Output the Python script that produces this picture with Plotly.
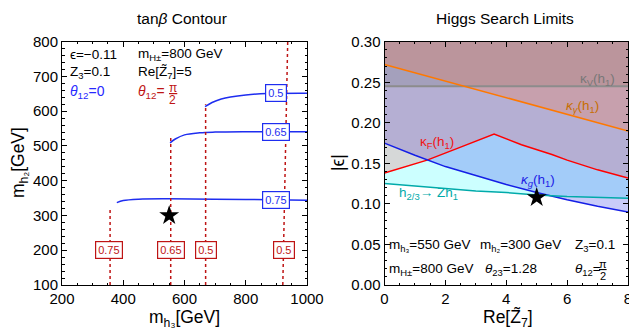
import plotly.graph_objects as go

# ---------------- Left panel data (tanβ contours) ----------------
blue_05_x = [667, 690, 720, 750, 800, 870, 1000]
blue_05_y = [613, 625, 635, 641, 647, 651, 652]
blue_065_x = [553, 570, 600, 650, 700, 800, 1000]
blue_065_y = [509, 520, 532, 538, 540, 541, 541]
blue_075_x = [379, 400, 450, 550, 800, 1000]
blue_075_y = [337, 343, 347, 348, 346, 344]

red_075_x = [357, 357]
red_075_y = [100, 322]
red_065_x = [555, 555]
red_065_y = [100, 523]
red_05a_x = [669, 669]
red_05a_y = [100, 620]
red_05b_x = [921, 937]
red_05b_y = [100, 800]

blue_labels = ["0.5", "0.65", "0.75"]
blue_label_x = [900, 900, 900]
blue_label_y = [651, 541, 346]
red_labels = ["0.75", "0.65", "0.5", "0.5"]
red_label_x = [355, 555, 669, 925]
red_label_y = [200, 200, 200, 200]

star_left = (550, 300)

# ---------------- Right panel data (Higgs search limits) ----------------
orange_x = [0, 3.6, 8]
orange_y = [0.272, 0.235, 0.190]
gray_x = [0, 8]
gray_y = [0.245, 0.245]
red_x = [0, 0.7, 1.4, 2.5, 3.6, 4.5, 5.5, 6, 7, 8]
red_y = [0.138, 0.146, 0.154, 0.170, 0.186, 0.173, 0.161, 0.154, 0.142, 0.132]
blue_x = [0, 1, 2, 3, 4, 5, 6, 7, 8]
blue_y = [0.175, 0.160, 0.146, 0.135, 0.124, 0.114, 0.105, 0.097, 0.090]
teal_x = [0, 1, 2, 3, 4, 5, 6, 7, 8]
teal_y = [0.125, 0.122, 0.119, 0.116, 0.114, 0.111, 0.109, 0.108, 0.107]
star_right = (5, 0.108)

XMAX_R, YMAX_R = 8, 0.30

FONT = "Liberation Sans, Arial, sans-serif"
BLUE = "rgb(30,45,240)"
DRED = "rgb(190,20,20)"

# page body has an 8px margin: size the figure to the remaining window
OFF = 8
W, H = 637 - OFF, 331 - OFF


def fx(px):
    return (px - OFF) / W


def fy(py):
    return 1 - (py - OFF) / H


fig = go.Figure()

# ---- left panel traces
for xs, ys in [(blue_05_x, blue_05_y), (blue_065_x, blue_065_y), (blue_075_x, blue_075_y)]:
    fig.add_trace(go.Scatter(x=xs, y=ys, mode="lines", line=dict(color=BLUE, width=1.5, shape="spline"),
                             xaxis="x", yaxis="y", showlegend=False, hoverinfo="skip"))
for xs, ys in [(red_075_x, red_075_y), (red_065_x, red_065_y), (red_05a_x, red_05a_y), (red_05b_x, red_05b_y)]:
    fig.add_trace(go.Scatter(x=xs, y=ys, mode="lines", line=dict(color=DRED, width=1.5, dash="dot"),
                             xaxis="x", yaxis="y", showlegend=False, hoverinfo="skip"))
fig.add_trace(go.Scatter(x=[star_left[0]], y=[star_left[1]], mode="markers",
                         marker=dict(symbol="star", size=15, color="black"),
                         xaxis="x", yaxis="y", showlegend=False))

# ---- right panel: exclusion fills (region above each curve)
fills = [
    (teal_x, teal_y, "rgba(0,255,255,0.2)"),
    (blue_x, blue_y, "rgba(40,50,230,0.25)"),
    (red_x, red_y, "rgba(255,60,60,0.2)"),
    (gray_x, gray_y, "rgba(100,100,100,0.2)"),
    (orange_x, orange_y, "rgba(255,115,60,0.25)"),
]
for xs, ys, col in fills:
    px = list(xs) + [XMAX_R, 0]
    py = list(ys) + [YMAX_R, YMAX_R]
    fig.add_trace(go.Scatter(x=px, y=py, fill="toself", fillcolor=col, mode="lines",
                             line=dict(width=0), xaxis="x2", yaxis="y2", showlegend=False, hoverinfo="skip"))

lines_r = [
    (gray_x, gray_y, "rgb(140,140,140)", 2),
    (orange_x, orange_y, "rgb(255,120,0)", 1.5),
    (red_x, red_y, "rgb(255,0,0)", 1.5),
    (blue_x, blue_y, "rgb(20,30,230)", 1.5),
    (teal_x, teal_y, "rgb(0,170,170)", 1.5),
]
for xs, ys, col, w in lines_r:
    fig.add_trace(go.Scatter(x=xs, y=ys, mode="lines", line=dict(color=col, width=w),
                             xaxis="x2", yaxis="y2", showlegend=False, hoverinfo="skip"))
fig.add_trace(go.Scatter(x=[star_right[0]], y=[star_right[1]], mode="markers",
                         marker=dict(symbol="star", size=15, color="black"),
                         xaxis="x2", yaxis="y2", showlegend=False))

ann = []
# labels on contours
for t, x, y in zip(blue_labels, blue_label_x, blue_label_y):
    ann.append(dict(x=x, y=y, xref="x", yref="y", text=t, showarrow=False,
                    font=dict(family=FONT, size=11, color=BLUE), bgcolor="white",
                    bordercolor=BLUE, borderwidth=1.2, borderpad=2))
for t, x, y in zip(red_labels, red_label_x, red_label_y):
    ann.append(dict(x=x, y=y, xref="x", yref="y", text=t, showarrow=False,
                    font=dict(family=FONT, size=11, color=DRED), bgcolor="white",
                    bordercolor=DRED, borderwidth=1.2, borderpad=2))


def txt(x, y, text, xref, yref, color="black", size=13.5, xanchor="left"):
    ann.append(dict(x=x, y=y, xref=xref, yref=yref, text=text, showarrow=False,
                    xanchor=xanchor, yanchor="middle", font=dict(family=FONT, size=size, color=color)))


# left panel texts
txt(221, 762, "ϵ=−0.11", "x", "y")
txt(443, 762, "m<sub>H±</sub>=800 GeV", "x", "y")
txt(221, 710, "Z<sub>3</sub>=0.1", "x", "y")
txt(443, 710, "Re[Z̃<sub>7</sub>]=5", "x", "y")
txt(221, 655, "<i>θ</i><sub>12</sub>=0", "x", "y", color="rgb(40,40,255)", size=14)
txt(443, 655, "<i>θ</i><sub>12</sub>=", "x", "y", color=DRED, size=14)
txt(562, 668, "<u>π</u>", "x", "y", color=DRED, size=12, xanchor="center")
txt(562, 631, "2", "x", "y", color=DRED, size=12, xanchor="center")

# right panel texts
txt(7.0, 0.2535, "κ<sub>V</sub>(h<sub>1</sub>)", "x2", "y2", color="rgb(120,120,120)", xanchor="center")
txt(6.5, 0.2195, "<i>κ<sub>γ</sub></i>(h<sub>1</sub>)", "x2", "y2", color="rgb(200,110,0)", xanchor="center")
txt(1.71, 0.1756, "κ<sub>F</sub>(h<sub>1</sub>)", "x2", "y2", color="rgb(240,20,20)", xanchor="center")
txt(5.03, 0.1287, "<i>κ<sub>g</sub></i>(h<sub>1</sub>)", "x2", "y2", color="rgb(30,30,230)", xanchor="center")
txt(1.46, 0.1126, "h<sub>2/3</sub>→ Zh<sub>1</sub>", "x2", "y2", color="rgb(0,170,170)", xanchor="center")
txt(0.07, 0.049, "m<sub>h₃</sub>=550 GeV", "x2", "y2")
txt(3.08, 0.049, "m<sub>h₂</sub>=300 GeV", "x2", "y2")
txt(6.2, 0.049, "Z<sub>3</sub>=0.1", "x2", "y2")
txt(0.07, 0.0197, "m<sub>H±</sub>=800 GeV", "x2", "y2")
txt(3.25, 0.0197, "<i>θ</i><sub>23</sub>=1.28", "x2", "y2")
txt(6.2, 0.0197, "<i>θ</i><sub>12</sub>=", "x2", "y2")
txt(7.17, 0.0255, "<u>π</u>", "x2", "y2", size=11, xanchor="center")
txt(7.17, 0.0105, "2", "x2", "y2", size=11, xanchor="center")


# titles and axis titles (positions in window pixels)
def ptxt(px, py, text, size=15.5, angle=0):
    ann.append(dict(x=fx(px), y=fy(py), xref="paper", yref="paper", text=text, showarrow=False,
                    xanchor="center", yanchor="middle", textangle=angle,
                    font=dict(family=FONT, size=size, color="black")))


ptxt(182, 19, "tan<i>β</i> Contour")
ptxt(505, 19, "Higgs Search Limits")
ptxt(184, 318, "m<sub>h₃</sub>[GeV]", 17.5)
ptxt(508, 318, "Re[Z̃<sub>7</sub>]", 17.5)
ptxt(19, 163, "m<sub>h₂</sub>[GeV]", 17.5, -90)
ptxt(338, 163, "|ϵ|", 17.5, -90)

axis_common = dict(showline=True, linecolor="black", linewidth=1, mirror="ticks", automargin=False,
                   ticks="inside", ticklen=5, tickcolor="black", showgrid=False, zeroline=False,
                   tickfont=dict(family=FONT, size=15, color="black"))

ydom = [fy(285), fy(41.7)]
fig.update_layout(
    width=W, height=H, autosize=False,
    margin=dict(l=0, r=0, t=0, b=0, pad=0, autoexpand=False),
    plot_bgcolor="white", paper_bgcolor="white",
    showlegend=False,
    xaxis=dict(domain=[fx(62), fx(307)], range=[200, 1000], tickvals=[200, 400, 600, 800, 1000],
               minor=dict(dtick=50, ticks="inside", ticklen=2.5, tickcolor="black"), anchor="y", **axis_common),
    yaxis=dict(domain=ydom, range=[100, 800], tickvals=[100, 200, 300, 400, 500, 600, 700, 800],
               minor=dict(dtick=20, ticks="inside", ticklen=2.5, tickcolor="black"), anchor="x", **axis_common),
    xaxis2=dict(domain=[fx(384.5), fx(628)], range=[0, 8], tickvals=[0, 2, 4, 6, 8],
                minor=dict(dtick=0.5, ticks="inside", ticklen=2.5, tickcolor="black"), anchor="y2", **axis_common),
    yaxis2=dict(domain=ydom, range=[0, 0.30], tickvals=[0, 0.05, 0.10, 0.15, 0.20, 0.25, 0.30],
                ticktext=["0.00", "0.05", "0.10", "0.15", "0.20", "0.25", "0.30"],
                minor=dict(dtick=0.01, ticks="inside", ticklen=2.5, tickcolor="black"), anchor="x2", **axis_common),
    annotations=ann,
)

fig.write_html("out.html", config={"displayModeBar": False})
